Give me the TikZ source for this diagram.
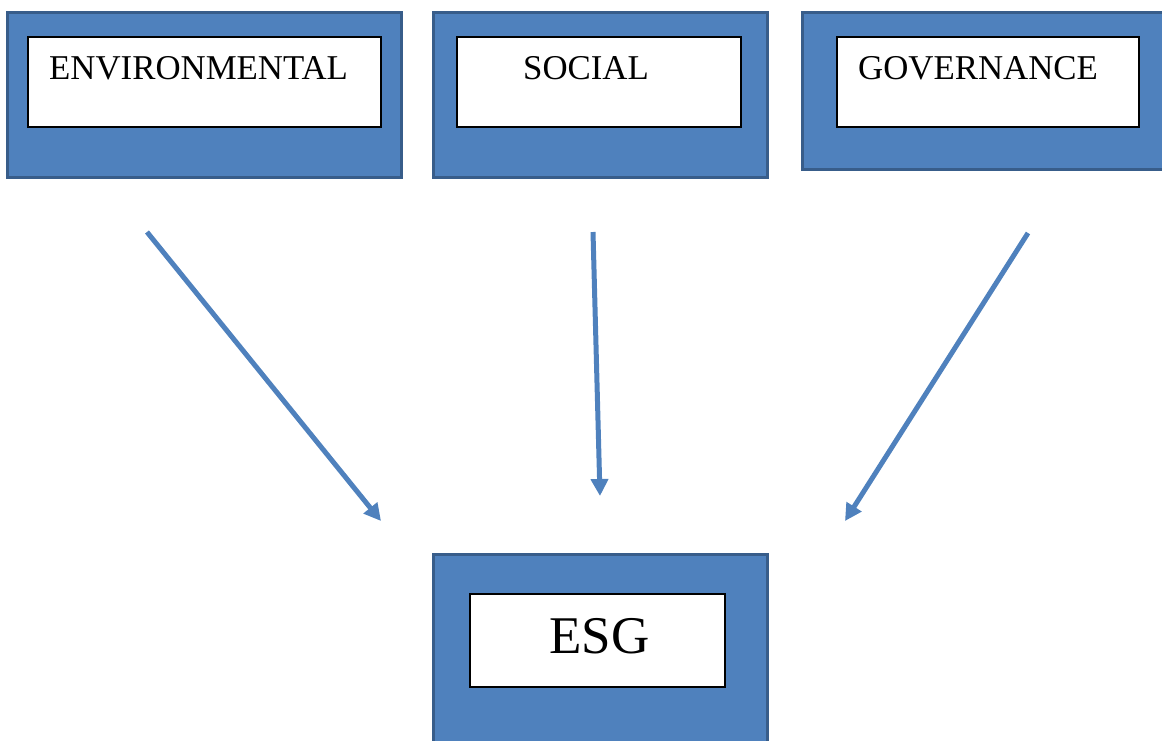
\documentclass[tikz,border=0pt]{standalone}
\usepackage{fontspec}
\setmainfont{Liberation Serif}
\usetikzlibrary{arrows.meta}
\definecolor{boxblue}{HTML}{4F81BD}
\definecolor{boxedge}{HTML}{385D8A}
\tikzset{
  outerbox/.style={draw=boxedge, fill=boxblue, line width=3pt, inner sep=0pt},
  innerbox/.style={draw=black, fill=white, line width=1.5pt, inner sep=0pt},
  lbl/.style={anchor=base west, inner sep=0pt, font=\fontsize{34.8}{40}\selectfont},
  biglbl/.style={anchor=base west, inner sep=0pt, font=\fontsize{53}{60}\selectfont},
  flow/.style={draw=boxblue, line width=5pt, -{Triangle[width=17pt,length=17pt]}}
}
\begin{document}
\begin{tikzpicture}[x=1pt,y=-1pt]
\useasboundingbox (0,0) rectangle (1162,740);
\clip (0,0) rectangle (1162,740);
% outer boxes
\node[outerbox, minimum width=394pt, minimum height=165pt] (envout) at (204.5,94.5) {};
\node[outerbox, minimum width=334pt, minimum height=165pt] (socout) at (600,94.5) {};
\node[outerbox, minimum width=380pt, minimum height=157pt] (govout) at (992,90.5) {};
\node[outerbox, minimum width=334pt, minimum height=220pt] (esgout) at (600,664) {};
% inner boxes
\node[innerbox, minimum width=353pt, minimum height=90pt] (envin) at (204.5,82) {};
\node[innerbox, minimum width=284pt, minimum height=90pt] (socin) at (599,82) {};
\node[innerbox, minimum width=302pt, minimum height=90pt] (govin) at (988,82) {};
\node[innerbox, minimum width=255pt, minimum height=93pt] (esgin) at (597.5,640.5) {};
% labels
\node[lbl] (envt) at (49,79) {ENVIRONMENTAL};
\node[lbl] (soct) at (523,79) {SOCIAL};
\node[lbl] (govt) at (858,79) {GOVERNANCE};
\node[biglbl] (esgt) at (549,653) {ESG};
% arrow end points
\coordinate (ea) at (147,232);
\coordinate (eb) at (381,521);
\coordinate (sa) at (593,232);
\coordinate (sb) at (600,496);
\coordinate (ga) at (1028,233);
\coordinate (gb) at (845,521);
\draw[flow] (ea) -- (eb);
\draw[flow] (sa) -- (sb);
\draw[flow] (ga) -- (gb);
\end{tikzpicture}
\end{document}
